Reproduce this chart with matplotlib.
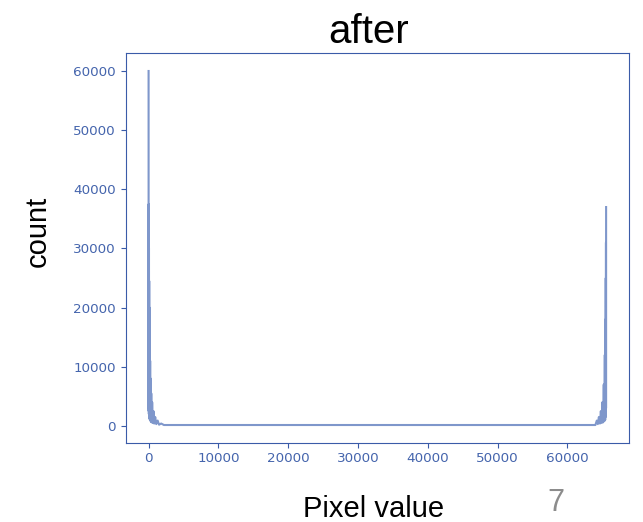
import matplotlib
matplotlib.use("Agg")
import matplotlib.pyplot as plt
import numpy as np

# pixel histogram: low end, flat middle, high end
left_px = [0, 8, 16, 24, 32, 40, 56, 72, 88, 104, 120, 144, 168, 192, 224, 256,
           296, 336, 384, 448, 512, 600, 700, 800, 950, 1100, 1300, 1500, 1800, 2200]
left_count = [60000, 3000, 37500, 2500, 36000, 2000, 30000, 1800, 24500, 1500,
              20000, 1200, 15000, 1000, 11000, 900, 8000, 700, 5500, 600,
              4000, 500, 2500, 400, 1500, 300, 900, 200, 400, 150]

mid_px = [2500, 10000, 20000, 30000, 40000, 50000, 60000, 64000]
mid_count = [150, 150, 150, 150, 150, 150, 150, 150]

right_px = [64200, 64350, 64500, 64650, 64780, 64900, 65000, 65100, 65200,
            65280, 65350, 65400, 65440, 65470, 65490, 65505, 65515, 65525, 65535]
right_count = [900, 300, 1500, 400, 2500, 500, 4000, 600, 7000,
               800, 12000, 1000, 18000, 1500, 25000, 2000, 31000, 3000, 37000]

x = np.array(left_px + mid_px + right_px)
y = np.array(left_count + mid_count + right_count)

blue = '#3a5ba8'
line_color = '#7f97cb'

fig = plt.figure(figsize=(6.43, 5.22), dpi=100)
ax = fig.add_axes([0.1955, 0.1519, 0.7827, 0.746])
ax.plot(x, y, color=line_color, lw=1.5)

ax.set_xticks([0, 10000, 20000, 30000, 40000, 50000, 60000])
ax.set_yticks([0, 10000, 20000, 30000, 40000, 50000, 60000])
ax.tick_params(colors=blue, labelsize=9.7, labelcolor='#4565ad')
for s in ax.spines.values():
    s.set_color(blue)

# slide text around the embedded plot
slide_font = 'Liberation Sans'
fig.text(0.573, 1 - 43 / 522, 'after', fontsize=29, family=slide_font,
         ha='center', va='baseline')
fig.text(38 / 643, 1 - 231 / 522, 'count', fontsize=21, family=slide_font,
         rotation=90, ha='center', va='center')
fig.text(374 / 643, 1 - 517 / 522, 'Pixel value', fontsize=21, family=slide_font,
         ha='center', va='baseline')
fig.text(556 / 643, 1 - 511 / 522, '7', fontsize=22, family=slide_font,
         color='#8c8c8c', ha='center', va='baseline')

fig.savefig('out.png', dpi=100)
